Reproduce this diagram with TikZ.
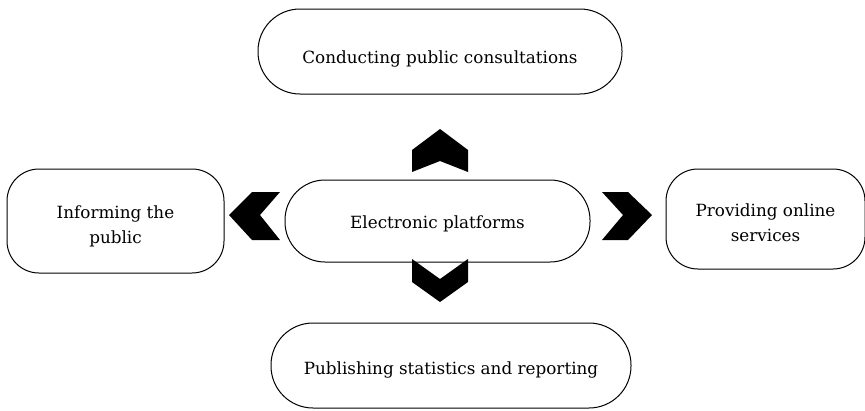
\documentclass[tikz,border=0pt]{standalone}
\usepackage{fontspec}
\setmainfont{DejaVu Serif}
\usetikzlibrary{positioning}

\begin{document}
\begin{tikzpicture}[x=1pt,y=-1pt,semithick]
   \tikzstyle{every node}=[font=\fontsize{16.8}{25}\selectfont]
   \tikzstyle{pill}=[draw,line width=1pt,align=center,text=black,text depth=0pt]
   \tikzstyle{chev}=[fill=black]

   \useasboundingbox (0,0) rectangle (865,410);

   \node[pill,minimum width=305pt,minimum height=82pt,rounded corners=40pt,text height=15pt] (plat) at (437.5,221) {Electronic platforms};
   \node[pill,minimum width=364pt,minimum height=85pt,rounded corners=42pt,text height=23pt] (cons) [above=85pt of plat,xshift=2.5pt] {Conducting public consultations};
   \node[pill,minimum width=360pt,minimum height=85pt,rounded corners=42pt,text height=17pt] (stat) [below=60pt of plat,xshift=13.5pt] {Publishing statistics and reporting};
   \node[pill,minimum width=217pt,minimum height=104pt,rounded corners=32pt,text height=44pt] (inform) [left=60pt of plat] {Informing the\\public};
   \node[pill,minimum width=199pt,minimum height=100pt,rounded corners=32pt,text height=44pt] (serv) [right=75pt of plat,yshift=2pt] {Providing online\\services};

   % chevrons between the centre and the outer boxes
   \fill[chev] (412,150) -- (440,129) -- (468,150) -- (468,172) -- (440,161) -- (412,172) -- cycle;
   \fill[chev] (412,259) -- (440,279) -- (468,259) -- (468,282) -- (440,302) -- (412,282) -- cycle;
   \fill[chev] (252,192) -- (280,192) -- (260,215) -- (280,240) -- (252,240) -- (229,215) -- cycle;
   \fill[chev] (602,192) -- (628,192) -- (652,215) -- (628,240) -- (602,240) -- (623,215) -- cycle;
\end{tikzpicture}
\end{document}
